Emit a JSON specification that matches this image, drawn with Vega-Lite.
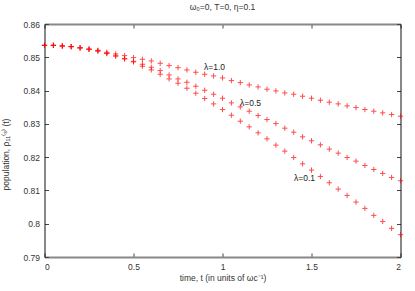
{
  "$schema": "https://vega.github.io/schema/vega-lite/v6.json",
  "width": 356,
  "height": 233,
  "autosize": {"type": "none"},
  "padding": {"left": 44.5, "top": 24, "right": 14.5, "bottom": 34},
  "background": "white",
  "config": {
    "view": {"stroke": null},
    "font": "Liberation Sans",
    "axis": {"grid": false, "labelFontSize": 8.5, "labelColor": "#333", "tickColor": "#444", "tickSize": -4, "labelPadding": 9, "titleFontSize": 8.5, "titleFontWeight": "normal", "titleColor": "#333"}
  },
  "title": {"text": "ω₀=0, T=0, η=0.1", "fontSize": 8.5, "fontWeight": "normal", "color": "#333", "offset": 9},
  "datasets": {
    "pts": [
      {"t":0,"l":"1.0","p":0.8536},{"t":0,"l":"0.5","p":0.8536},{"t":0,"l":"0.1","p":0.8536},
      {"t":0.05,"l":"1.0","p":0.8536},{"t":0.05,"l":"0.5","p":0.8536},{"t":0.05,"l":"0.1","p":0.8536},
      {"t":0.1,"l":"1.0","p":0.8534},{"t":0.1,"l":"0.5","p":0.8534},{"t":0.1,"l":"0.1","p":0.8534},
      {"t":0.15,"l":"1.0","p":0.8532},{"t":0.15,"l":"0.5","p":0.8532},{"t":0.15,"l":"0.1","p":0.8532},
      {"t":0.2,"l":"1.0","p":0.8529},{"t":0.2,"l":"0.5","p":0.8528},{"t":0.2,"l":"0.1","p":0.8528},
      {"t":0.25,"l":"1.0","p":0.8525},{"t":0.25,"l":"0.5","p":0.8524},{"t":0.25,"l":"0.1","p":0.8524},
      {"t":0.3,"l":"1.0","p":0.8521},{"t":0.3,"l":"0.5","p":0.8519},{"t":0.3,"l":"0.1","p":0.8519},
      {"t":0.35,"l":"1.0","p":0.8515},{"t":0.35,"l":"0.5","p":0.8512},{"t":0.35,"l":"0.1","p":0.8511},
      {"t":0.4,"l":"1.0","p":0.8510},{"t":0.4,"l":"0.5","p":0.8504},{"t":0.4,"l":"0.1","p":0.8504},
      {"t":0.45,"l":"1.0","p":0.8505},{"t":0.45,"l":"0.5","p":0.8496},{"t":0.45,"l":"0.1","p":0.8495},
      {"t":0.5,"l":"1.0","p":0.8499},{"t":0.5,"l":"0.5","p":0.8488},{"t":0.5,"l":"0.1","p":0.8486},
      {"t":0.55,"l":"1.0","p":0.8494},{"t":0.55,"l":"0.5","p":0.8479},{"t":0.55,"l":"0.1","p":0.8473},
      {"t":0.6,"l":"1.0","p":0.8489},{"t":0.6,"l":"0.5","p":0.8470},{"t":0.6,"l":"0.1","p":0.8462},
      {"t":0.65,"l":"1.0","p":0.8482},{"t":0.65,"l":"0.5","p":0.8460},{"t":0.65,"l":"0.1","p":0.8449},
      {"t":0.7,"l":"1.0","p":0.8475},{"t":0.7,"l":"0.5","p":0.8447},{"t":0.7,"l":"0.1","p":0.8435},
      {"t":0.75,"l":"1.0","p":0.8469},{"t":0.75,"l":"0.5","p":0.8435},{"t":0.75,"l":"0.1","p":0.8422},
      {"t":0.8,"l":"1.0","p":0.8462},{"t":0.8,"l":"0.5","p":0.8425},{"t":0.8,"l":"0.1","p":0.8407},
      {"t":0.85,"l":"1.0","p":0.8455},{"t":0.85,"l":"0.5","p":0.8413},{"t":0.85,"l":"0.1","p":0.8392},
      {"t":0.9,"l":"1.0","p":0.8449},{"t":0.9,"l":"0.5","p":0.8401},{"t":0.9,"l":"0.1","p":0.8376},
      {"t":0.95,"l":"1.0","p":0.8444},{"t":0.95,"l":"0.5","p":0.8389},{"t":0.95,"l":"0.1","p":0.8360},
      {"t":1.0,"l":"1.0","p":0.8438},{"t":1.0,"l":"0.5","p":0.8377},{"t":1.0,"l":"0.1","p":0.8343},
      {"t":1.05,"l":"1.0","p":0.8430},{"t":1.05,"l":"0.5","p":0.8363},{"t":1.05,"l":"0.1","p":0.8326},
      {"t":1.1,"l":"1.0","p":0.8424},{"t":1.1,"l":"0.5","p":0.8351},{"t":1.1,"l":"0.1","p":0.8308},
      {"t":1.15,"l":"1.0","p":0.8417},{"t":1.15,"l":"0.5","p":0.8338},{"t":1.15,"l":"0.1","p":0.8291},
      {"t":1.2,"l":"1.0","p":0.8411},{"t":1.2,"l":"0.5","p":0.8325},{"t":1.2,"l":"0.1","p":0.8273},
      {"t":1.25,"l":"1.0","p":0.8404},{"t":1.25,"l":"0.5","p":0.8313},{"t":1.25,"l":"0.1","p":0.8255},
      {"t":1.3,"l":"1.0","p":0.8399},{"t":1.3,"l":"0.5","p":0.8301},{"t":1.3,"l":"0.1","p":0.8236},
      {"t":1.35,"l":"1.0","p":0.8393},{"t":1.35,"l":"0.5","p":0.8287},{"t":1.35,"l":"0.1","p":0.8218},
      {"t":1.4,"l":"1.0","p":0.8389},{"t":1.4,"l":"0.5","p":0.8275},{"t":1.4,"l":"0.1","p":0.8199},
      {"t":1.45,"l":"1.0","p":0.8383},{"t":1.45,"l":"0.5","p":0.8261},{"t":1.45,"l":"0.1","p":0.8180},
      {"t":1.5,"l":"1.0","p":0.8377},{"t":1.5,"l":"0.5","p":0.8249},{"t":1.5,"l":"0.1","p":0.8161},
      {"t":1.55,"l":"1.0","p":0.8371},{"t":1.55,"l":"0.5","p":0.8237},{"t":1.55,"l":"0.1","p":0.8142},
      {"t":1.6,"l":"1.0","p":0.8365},{"t":1.6,"l":"0.5","p":0.8224},{"t":1.6,"l":"0.1","p":0.8123},
      {"t":1.65,"l":"1.0","p":0.8360},{"t":1.65,"l":"0.5","p":0.8212},{"t":1.65,"l":"0.1","p":0.8104},
      {"t":1.7,"l":"1.0","p":0.8354},{"t":1.7,"l":"0.5","p":0.8199},{"t":1.7,"l":"0.1","p":0.8085},
      {"t":1.75,"l":"1.0","p":0.8349},{"t":1.75,"l":"0.5","p":0.8188},{"t":1.75,"l":"0.1","p":0.8065},
      {"t":1.8,"l":"1.0","p":0.8343},{"t":1.8,"l":"0.5","p":0.8175},{"t":1.8,"l":"0.1","p":0.8046},
      {"t":1.85,"l":"1.0","p":0.8338},{"t":1.85,"l":"0.5","p":0.8163},{"t":1.85,"l":"0.1","p":0.8025},
      {"t":1.9,"l":"1.0","p":0.8333},{"t":1.9,"l":"0.5","p":0.8151},{"t":1.9,"l":"0.1","p":0.8007},
      {"t":1.95,"l":"1.0","p":0.8328},{"t":1.95,"l":"0.5","p":0.8139},{"t":1.95,"l":"0.1","p":0.7986},
      {"t":2.0,"l":"1.0","p":0.8323},{"t":2.0,"l":"0.5","p":0.8129},{"t":2.0,"l":"0.1","p":0.7967}
    ],
    "lbl": [
      {"t":0.896,"p":0.8471,"label":"λ=1.0"},
      {"t":1.098,"p":0.8363,"label":"λ=0.5"},
      {"t":1.402,"p":0.8138,"label":"λ=0.1"}
    ]
  },
  "layer": [
    {
      "data": {"name": "pts"},
      "mark": {"type": "point", "shape": "M-1,0H1M0,-1V1", "filled": false, "stroke": "#ff0000", "strokeWidth": 1, "size": 28, "opacity": 0.7, "clip": false},
      "encoding": {
        "x": {"field": "t", "type": "quantitative", "scale": {"domain": [0, 2], "nice": false, "zero": false},
              "axis": {"orient": "bottom", "values": [0, 0.5, 1, 1.5, 2], "format": ".1~f", "title": "time, t (in units of ωc⁻¹)", "titlePadding": 3, "domainColor": "#888", "domainWidth": 2}},
        "y": {"field": "p", "type": "quantitative", "scale": {"domain": [0.79, 0.86], "nice": false, "zero": false},
              "axis": {"orient": "left", "values": [0.79, 0.8, 0.81, 0.82, 0.83, 0.84, 0.85, 0.86], "format": ".2~f", "title": "population, ρ₁₁⁽ˢ⁾ (t)", "titlePadding": 12, "titleY": 130, "domainColor": "#111", "domainWidth": 1}},
        "detail": {"field": "l"}
      }
    },
    {
      "data": {"name": "lbl"},
      "mark": {"type": "text", "align": "left", "baseline": "middle", "fontSize": 8.5, "color": "#222"},
      "encoding": {
        "x": {"field": "t", "type": "quantitative", "scale": {"domain": [0, 2], "nice": false, "zero": false},
              "axis": {"orient": "top", "values": [0, 0.5, 1, 1.5, 2], "labels": false, "title": null, "domainColor": "#888", "domainWidth": 2}},
        "y": {"field": "p", "type": "quantitative", "scale": {"domain": [0.79, 0.86], "nice": false, "zero": false},
              "axis": {"orient": "right", "values": [0.79, 0.8, 0.81, 0.82, 0.83, 0.84, 0.85, 0.86], "labels": false, "title": null, "domainColor": "#111", "domainWidth": 1}},
        "text": {"field": "label"}
      }
    }
  ],
  "resolve": {"axis": {"x": "independent", "y": "independent"}}
}
